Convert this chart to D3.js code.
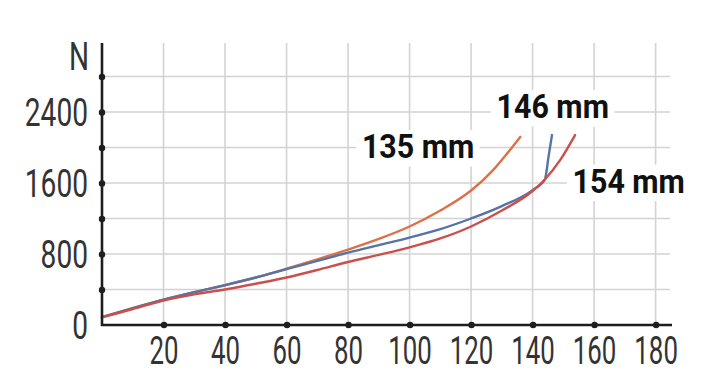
<!DOCTYPE html>
<html>
<head>
<meta charset="utf-8">
<script src="https://cdn.jsdelivr.net/npm/d3@7/dist/d3.min.js"></script>
<style>
  html, body { margin: 0; padding: 0; background: #fff; }
  svg { display: block; }
</style>
</head>
<body>
<svg id="chart" width="712" height="392"></svg>
<script>
// axis ticks
const xTicks = [20, 40, 60, 80, 100, 120, 140, 160, 180];
const yTicks = [400, 800, 1200, 1600, 2000, 2400, 2800];
const yLabelTicks = [0, 800, 1600, 2400];

// curve 135 mm
const x135 = [0, 10, 20, 30, 40, 50, 60, 70, 80, 90, 100, 110, 120, 127, 132, 136];
const n135 = [90, 190, 285, 370, 448, 535, 635, 740, 850, 970, 1110, 1290, 1515, 1740, 1945, 2120];

// curve 146 mm
const x146 = [0, 10, 20, 30, 40, 50, 60, 70, 80, 90, 100, 110, 120, 130, 140, 144, 145.2, 146.3];
const n146 = [90, 190, 285, 370, 450, 535, 630, 722, 815, 900, 985, 1080, 1200, 1340, 1520, 1640, 1900, 2140];

// curve 154 mm
const x154 = [0, 10, 20, 30, 40, 50, 60, 70, 80, 90, 100, 110, 120, 130, 140, 144, 149, 153.8];
const n154 = [85, 180, 275, 345, 400, 465, 535, 620, 710, 790, 875, 975, 1110, 1290, 1510, 1640, 1860, 2140];

const series = [
  { name: '135 mm', xs: x135, ys: n135, color: '#dd7048' },
  { name: '146 mm', xs: x146, ys: n146, color: '#5673a6' },
  { name: '154 mm', xs: x154, ys: n154, color: '#c9504c' }
];

// label anchors (data coords) for the series names
const labels = [
  { text: '135 mm', x: 84.5, y: 1880 },
  { text: '146 mm', x: 128.3, y: 2330 },
  { text: '154 mm', x: 153, y: 1490 }
];

const STYLE = {
  AXIS: '#1e1e1e',
  GRID: '#d3d3d3',
  TEXT: '#333',
  FONT: 'Roboto, "Liberation Sans", sans-serif',
  TICK_SIZE: 38,
  X_TICK_SCALE: 0.68,
  Y_TICK_SCALE: 0.74,
  LABEL_SIZE: 33,
  LABEL_SCALE: 0.92
};

const svg = d3.select('#chart');

const x = d3.scaleLinear().domain([0, 185]).range([102, 671]);
const y = d3.scaleLinear().domain([0, 3200]).range([325, 41]);

// grid
const grid = svg.append('g').attr('class', 'grid');
grid.selectAll('line.h')
  .data(yTicks)
  .join('line')
  .attr('class', 'h')
  .attr('x1', x(0)).attr('x2', 670)
  .attr('y1', d => y(d)).attr('y2', d => y(d))
  .attr('stroke', STYLE.GRID)
  .attr('stroke-width', 1.6);
grid.selectAll('line.v')
  .data(xTicks)
  .join('line')
  .attr('class', 'v')
  .attr('x1', d => x(d)).attr('x2', d => x(d))
  .attr('y1', y(0)).attr('y2', 43)
  .attr('stroke', STYLE.GRID)
  .attr('stroke-width', 1.6);

// curves
const line = d3.line()
  .x(d => x(d[0]))
  .y(d => y(d[1]))
  .curve(d3.curveMonotoneX);

svg.append('g').attr('class', 'curves')
  .selectAll('path')
  .data(series)
  .join('path')
  .attr('d', s => line(s.xs.map((v, i) => [v, s.ys[i]])))
  .attr('fill', 'none')
  .attr('stroke', s => s.color)
  .attr('stroke-width', 2.4)
  .attr('stroke-linecap', 'round');

// x axis
const xAxis = svg.append('g')
  .attr('class', 'axis axis-x')
  .attr('transform', `translate(0, ${y(0)})`)
  .call(d3.axisBottom(x).tickValues(xTicks).tickSize(0).tickPadding(0));
xAxis.select('.domain').remove();
xAxis.insert('line', ':first-child')
  .attr('x1', x(0) - 1).attr('x2', 672)
  .attr('stroke', STYLE.AXIS).attr('stroke-width', 2.6);
xAxis.selectAll('.tick').append('circle')
  .attr('r', 3.2).attr('fill', STYLE.AXIS);
xAxis.selectAll('.tick text')
  .attr('y', 12)
  .attr('dy', '0.71em')
  .attr('fill', STYLE.TEXT)
  .attr('font-size', STYLE.TICK_SIZE)
  .attr('font-family', STYLE.FONT)
  .attr('transform', `scale(${STYLE.X_TICK_SCALE},1)`);

// y axis
const yAxis = svg.append('g')
  .attr('class', 'axis axis-y')
  .attr('transform', `translate(${x(0)}, 0)`)
  .call(d3.axisLeft(y).tickValues(yTicks).tickSize(0).tickFormat(() => ''));
yAxis.select('.domain').remove();
yAxis.insert('line', ':first-child')
  .attr('y1', y(0) + 1).attr('y2', 43)
  .attr('stroke', STYLE.AXIS).attr('stroke-width', 2.6);
yAxis.selectAll('.tick').append('circle')
  .attr('r', 3.2).attr('fill', STYLE.AXIS);

const yLab = svg.append('g')
  .attr('class', 'axis axis-y-labels')
  .attr('transform', `translate(${x(0)}, 0)`)
  .call(d3.axisLeft(y).tickValues(yLabelTicks).tickSize(0).tickPadding(0).tickFormat(d3.format('d')));
yLab.select('.domain').remove();
yLab.selectAll('.tick text')
  .attr('x', 0)
  .attr('dy', '0.355em')
  .attr('fill', STYLE.TEXT)
  .attr('font-size', STYLE.TICK_SIZE)
  .attr('font-family', STYLE.FONT)
  .attr('transform', `translate(-14,0) scale(${STYLE.Y_TICK_SCALE},1)`);

// unit label
svg.append('text')
  .attr('text-anchor', 'end')
  .attr('transform', `translate(89, 70) scale(${STYLE.Y_TICK_SCALE},1)`)
  .attr('fill', STYLE.TEXT)
  .attr('font-size', STYLE.TICK_SIZE)
  .attr('font-family', STYLE.FONT)
  .text('N');

// series labels with white backing
const lab = svg.append('g').attr('class', 'series-labels')
  .selectAll('g')
  .data(labels)
  .join('g')
  .attr('transform', d => `translate(${x(d.x)}, ${y(d.y)}) scale(${STYLE.LABEL_SCALE},1)`);
lab.append('text')
  .attr('fill', '#111')
  .attr('font-size', STYLE.LABEL_SIZE)
  .attr('font-weight', 'bold')
  .attr('font-family', STYLE.FONT)
  .text(d => d.text)
  .each(function() {
    const b = this.getBBox();
    d3.select(this.parentNode).insert('rect', 'text')
      .attr('x', b.x - 6).attr('y', b.y + 2)
      .attr('width', b.width + 12).attr('height', b.height - 2)
      .attr('fill', '#fff');
  });
</script>
</body>
</html>
